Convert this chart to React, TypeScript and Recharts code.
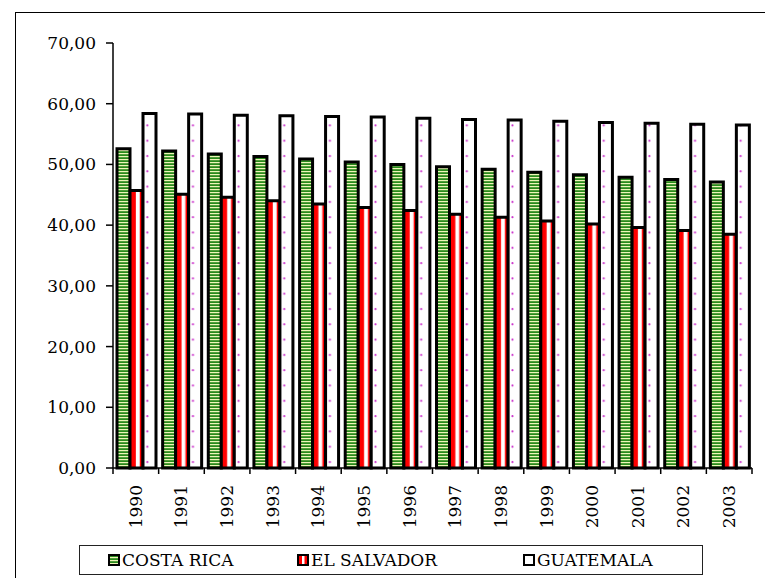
import React from 'react';
import { BarChart, Bar, XAxis, YAxis, Legend } from 'recharts';

const years = ['1990', '1991', '1992', '1993', '1994', '1995', '1996', '1997', '1998', '1999', '2000', '2001', '2002', '2003'];
const costaRica = [52.6, 52.2, 51.7, 51.3, 50.9, 50.4, 50.0, 49.6, 49.2, 48.7, 48.3, 47.9, 47.5, 47.1];
const elSalvador = [45.7, 45.1, 44.6, 44.0, 43.5, 42.9, 42.4, 41.8, 41.3, 40.7, 40.2, 39.6, 39.1, 38.5];
const guatemala = [58.4, 58.3, 58.1, 58.0, 57.9, 57.8, 57.6, 57.4, 57.3, 57.1, 56.9, 56.8, 56.6, 56.5];
const yTicks = [0, 10, 20, 30, 40, 50, 60, 70];
const seriesNames = ['COSTA RICA', 'EL SALVADOR', 'GUATEMALA'];

const data = years.map((year, i) => ({
  year,
  cr: costaRica[i],
  es: elSalvador[i],
  gt: guatemala[i],
}));

const FONT = "'DejaVu Serif', serif";
const FS = 17;

const fmt = (v: number) => v.toFixed(2).replace('.', ',');

const XTick = (props: any) => {
  const { x, y, payload, index } = props;
  const half = payload && typeof payload.offset === 'number' && payload.offset > 0 ? payload.offset : 22.82;
  const axisY = y - 17;
  const last = index === years.length - 1;
  return (
    <g>
      <line x1={x - half} x2={x - half} y1={axisY} y2={axisY + 6} stroke="#000" strokeWidth={1.5} />
      {last && <line x1={x + half} x2={x + half} y1={axisY} y2={axisY + 6} stroke="#000" strokeWidth={1.5} />}
      <text
        x={x}
        y={y}
        transform={`rotate(-90 ${x} ${y})`}
        textAnchor="end"
        dy="0.35em"
        style={{ fontFamily: FONT, fontSize: FS }}
        fill="#000"
      >
        {payload.value}
      </text>
    </g>
  );
};

const LegendContent = (props: any) => {
  const payload = props.payload || [];
  const lefts = [28, 217, 443];
  return (
    <div
      style={{
        position: 'relative',
        width: 624,
        height: 30,
        border: '1.5px solid #222',
        boxSizing: 'border-box',
        background: '#fff',
        fontFamily: FONT,
        fontSize: FS,
        color: '#000',
      }}
    >
      {payload.map((p: any, i: number) => (
        <div
          key={p.dataKey}
          style={{ position: 'absolute', left: lefts[i], top: 0, height: 27, display: 'flex', alignItems: 'center', whiteSpace: 'nowrap' }}
        >
          <svg width={12} height={12} style={{ marginRight: 2 }}>
            <defs>
              <pattern id={`lg-green-${i}`} patternUnits="userSpaceOnUse" width={4} height={3}>
                <rect width={4} height={3} fill="#2a8a1c" />
                <rect width={4} height={1.2} fill="#eef5b8" />
              </pattern>
            </defs>
            <rect
              x={1}
              y={1}
              width={10}
              height={10}
              fill={p.dataKey === 'cr' ? `url(#lg-green-${i})` : p.dataKey === 'es' ? '#ff0000' : '#fff'}
              stroke="#000"
              strokeWidth={2}
            />
            {p.dataKey === 'es' && <rect x={5} y={2} width={2.5} height={8} fill="#fff" />}
          </svg>
          <span>{p.value}</span>
        </div>
      ))}
    </div>
  );
};

export default function App() {
  return (
    <div style={{ position: 'absolute', left: 0, top: 0, width: 765, height: 578, background: '#fff' }}>
      <div
        style={{
          position: 'absolute',
          left: 15,
          top: 12,
          width: 750,
          height: 566,
          borderLeft: '1.5px solid #000',
          borderTop: '1.5px solid #000',
          boxSizing: 'border-box',
        }}
      />
      <div style={{ position: 'absolute', left: 0, top: 0 }}>
        <BarChart
          width={765}
          height={578}
          data={data}
          margin={{ top: 43, right: 13, bottom: 0, left: 0 }}
          barCategoryGap={4}
          barGap={0}
        >
          <defs>
            <pattern id="greenStripes" patternUnits="userSpaceOnUse" width={4} height={3}>
              <rect width={4} height={3} fill="#2a8a1c" />
              <rect width={4} height={1.2} fill="#eef5b8" />
            </pattern>
            <pattern id="redStripes" patternUnits="objectBoundingBox" patternContentUnits="objectBoundingBox" width={1} height={1}>
              <rect x={0} y={0} width={1} height={1} fill="#ff0000" />
              <rect x={0.45} y={0} width={0.3} height={1} fill="#ffffff" />
            </pattern>
            <pattern id="dots" patternUnits="userSpaceOnUse" x={0} y={0} width={45.643} height={15.3}>
              <rect width={45.643} height={15.3} fill="#ffffff" />
              <circle cx={10.4} cy={3} r={1.1} fill="#cc33cc" />
            </pattern>
          </defs>
          <XAxis
            dataKey="year"
            height={110}
            tickSize={6}
            tickMargin={11}
            tickLine={false}
            interval={0}
            axisLine={{ stroke: '#000', strokeWidth: 1.5 }}
            tick={<XTick />}
          />
          <XAxis
            xAxisId="top"
            dataKey="year"
            orientation="top"
            height={0}
            tick={false}
            tickLine={false}
            axisLine={{ stroke: '#808080', strokeWidth: 2.5 }}
          />
          <YAxis
            domain={[0, 70]}
            ticks={yTicks}
            width={113}
            tickSize={7}
            tickMargin={10}
            tickFormatter={fmt}
            axisLine={{ stroke: '#000', strokeWidth: 1.5 }}
            tickLine={{ stroke: '#000', strokeWidth: 1.5 }}
            tick={{ fontSize: FS, fill: '#000', style: { fontFamily: FONT } }}
            interval={0}
          />
          <YAxis
            yAxisId="right"
            orientation="right"
            width={0}
            tick={false}
            tickLine={false}
            axisLine={{ stroke: '#808080', strokeWidth: 3 }}
          />
          <Bar dataKey="cr" name={seriesNames[0]} fill="url(#greenStripes)" stroke="#000" strokeWidth={3} isAnimationActive={false} />
          <Bar dataKey="es" name={seriesNames[1]} fill="url(#redStripes)" stroke="#000" strokeWidth={3} isAnimationActive={false} />
          <Bar dataKey="gt" name={seriesNames[2]} fill="url(#dots)" stroke="#000" strokeWidth={3} isAnimationActive={false} />
          <Legend
            layout="horizontal"
            verticalAlign="middle"
            align="center"
            content={<LegendContent />}
            wrapperStyle={{ left: 79, top: 545, width: 624, height: 30, margin: 0 }}
          />
        </BarChart>
      </div>
    </div>
  );
}
